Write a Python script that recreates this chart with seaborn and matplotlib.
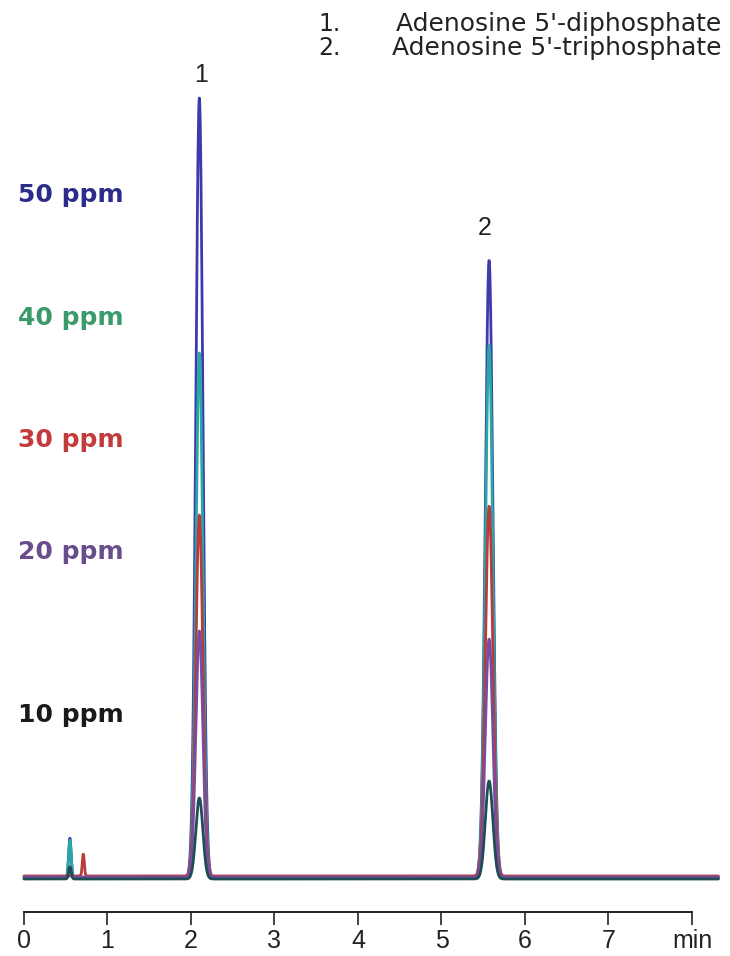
import numpy as np
import pandas as pd
import matplotlib
matplotlib.use("Agg")
import matplotlib.pyplot as plt
import seaborn as sns

# ---- data ----
concentrations = ["50 ppm", "40 ppm", "30 ppm", "20 ppm", "10 ppm"]
peak_times = [2.10, 5.57]            # retention time (min) of ADP, ATP
peak_widths = [0.042, 0.045]         # gaussian sigma (min)
adp_heights = [780, 525, 361, 246, 81]   # response (arbitrary units)
atp_heights = [618, 533, 370, 238, 98]
void_heights = [40, 38, 0, 10, 12]       # small peak near 0.55 min
void_time = 0.55
red_blip_height = [0, 0, 22, 0, 0]       # small peak near 0.70 min
red_blip_time = 0.71
baseline_offsets = [0, 0, 2, 1, -1]
line_colors = ["#3b3bab", "#2aa7a2", "#b83c3c", "#7a4b9e", "#1e4d52"]
label_colors = ["#2c2c8a", "#3a9a6b", "#c23a3a", "#6a4d8d", "#1a1a1a"]
peak_labels = ["1", "2"]
compound_nums = ["1.", "2."]
compound_names = ["Adenosine 5'-diphosphate", "Adenosine 5'-triphosphate"]
x_ticks = [0, 1, 2, 3, 4, 5, 6, 7, 8]
x_tick_labels = ["0", "1", "2", "3", "4", "5", "6", "7", "min"]

# ---- build traces ----
t = np.arange(0.0, 8.32, 0.004)
rows = []
for i, c in enumerate(concentrations):
    y = np.full_like(t, baseline_offsets[i], dtype=float)
    y += adp_heights[i] * np.exp(-0.5 * ((t - peak_times[0]) / peak_widths[0]) ** 2)
    y += atp_heights[i] * np.exp(-0.5 * ((t - peak_times[1]) / peak_widths[1]) ** 2)
    y += void_heights[i] * np.exp(-0.5 * ((t - void_time) / 0.015) ** 2)
    y += red_blip_height[i] * np.exp(-0.5 * ((t - red_blip_time) / 0.012) ** 2)
    rows.append(pd.DataFrame({"time": t, "signal": y, "conc": c}))
df = pd.concat(rows, ignore_index=True)

# ---- figure ----
sns.set_theme(style="white")
plt.rcParams["font.family"] = ["Liberation Sans", "DejaVu Sans"]
W, H = 730, 956
fig = plt.figure(figsize=(W / 100, H / 100), dpi=100)
ax_bottom_px = 912
ax_top_px = 40
ax = fig.add_axes([0, 1 - ax_bottom_px / H, 1, (ax_bottom_px - ax_top_px) / H])

sns.lineplot(data=df, x="time", y="signal", hue="conc", hue_order=concentrations,
             palette=line_colors, estimator=None, sort=False, linewidth=2.0,
             legend=False, ax=ax)

px_per_min = 83.5
x0_px = 24
ax.set_xlim((0 - x0_px) / px_per_min, (W - x0_px) / px_per_min)
baseline_px = 878
ax.set_ylim(-(ax_bottom_px - baseline_px), baseline_px - ax_top_px)

for s in ["top", "left", "right"]:
    ax.spines[s].set_visible(False)
ax.spines["bottom"].set_bounds(0, 8)
ax.spines["bottom"].set_color("#222222")
ax.spines["bottom"].set_linewidth(1.4)
ax.set_yticks([])
ax.set_xticks(x_ticks)
ax.set_xticklabels(x_tick_labels)
ax.tick_params(axis="x", direction="out", length=9, width=1.2, color="#222222",
               labelsize=18, labelcolor="#222222", pad=3, bottom=True)
ax.set_xlabel("")
ax.set_ylabel("")

# peak numbers
ax.text(peak_times[0] + 0.02, baseline_px - 75, peak_labels[0], ha="center", va="center",
        fontsize=18, color="#222222")
ax.text(peak_times[1] - 0.05, baseline_px - 228, peak_labels[1], ha="center", va="center",
        fontsize=18, color="#222222")

# compound list
for k, ypx in enumerate([24, 48]):
    fig.text(318 / W, 1 - ypx / H, compound_nums[k], ha="left", va="center",
             fontsize=17, color="#222222", family=["DejaVu Sans"])
    fig.text(721 / W, 1 - ypx / H, compound_names[k], ha="right", va="center",
             fontsize=18, color="#222222", family=["DejaVu Sans"])

# concentration labels
label_y_px = [195, 318, 440, 552, 715]
for c, col, ypx in zip(concentrations, label_colors, label_y_px):
    fig.text(18 / W, 1 - ypx / H, c, ha="left", va="center", fontsize=18,
             fontweight="bold", color=col, family=["DejaVu Sans"])

fig.savefig("out.png", dpi=100, facecolor="white")
